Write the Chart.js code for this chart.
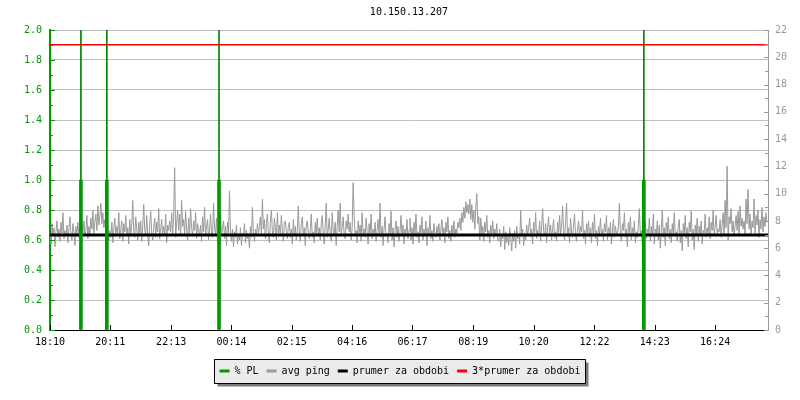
<!DOCTYPE html>
<html>
<head>
<meta charset="utf-8">
<script src="https://cdn.jsdelivr.net/npm/chart.js@4"></script>
<style>
  body { margin: 0; background: #fff; }
  #wrap { width: 800px; height: 400px; }
</style>
</head>
<body>
<div id="wrap"><canvas id="Chart" width="800" height="400"></canvas></div>
<script>
// minutes since 18:10
const tickMinutes = [0, 121, 243, 364, 485, 606, 727, 849, 970, 1092, 1213, 1334];
const tickLabels = ['18:10', '20:11', '22:13', '00:14', '02:15', '04:16', '06:17', '08:19', '10:20', '12:22', '14:23', '16:24'];

// packet loss events (left axis)
const plMinutes = [62, 114, 339, 1191];
const plValues = [1.0, 1.0, 1.0, 1.0];

// avg ping in ms, one sample every 2 minutes, one row per hour (right axis)
const sampleStep = 2;
const pingMs = [
    7.0, 6.3, 7.8, 6.9, 7.5, 6.1, 7.2, 8.0, 6.8, 7.4, 6.5, 7.9, 7.1, 8.6, 6.7, 7.3, 6.9, 7.7, 6.4, 7.5, 8.3, 7.0, 6.6, 7.8, 7.2, 6.2, 7.6, 7.0, 7.9, 6.8,
    7.4, 6.5, 7.7, 7.1, 8.0, 6.9, 7.3, 8.4, 6.7, 7.6, 7.0, 8.2, 7.4, 8.8, 7.1, 7.9, 8.5, 7.3, 9.1, 7.7, 8.3, 9.3, 7.8, 8.6, 7.5, 8.1, 7.0, 8.4, 7.2, 6.6,
    7.3, 6.8, 7.9, 6.4, 7.5, 8.2, 6.9, 7.6, 7.1, 8.6, 6.7, 7.4, 8.0, 6.5, 7.8, 7.2, 8.4, 6.9, 7.5, 6.3, 8.1, 7.0, 7.7, 9.5, 7.2, 6.8, 8.3, 7.4, 6.6, 7.9,
    7.1, 8.0, 6.5, 7.6, 9.2, 7.3, 6.9, 8.4, 7.0, 6.2, 7.8, 8.7, 7.1, 6.6, 7.5, 8.2, 6.8, 7.9, 7.2, 8.9, 6.7, 7.4, 8.1, 6.9, 7.6, 7.0, 8.5, 6.4, 7.7, 7.3,
    8.0, 7.2, 8.6, 7.0, 8.3, 11.9, 6.8, 7.9, 8.8, 7.3, 8.5, 6.9, 9.5, 7.6, 8.1, 7.0, 8.7, 7.4, 6.6, 8.2, 7.1, 8.9, 7.5, 6.9, 8.0, 7.3, 8.6, 6.7, 7.8, 7.2,
    7.0, 7.7, 6.5, 8.3, 7.2, 9.0, 6.9, 7.6, 8.1, 6.6, 7.4, 8.5, 7.1, 6.8, 9.3, 7.5, 7.0, 8.2, 6.4, 7.8, 7.3, 8.7, 6.9, 7.5, 8.0, 6.7, 7.6, 6.2, 7.9, 7.1,
    10.2, 7.0, 6.5, 7.4, 6.1, 7.2, 6.8, 7.7, 6.3, 7.0, 6.6, 7.5, 6.2, 7.1, 6.9, 7.8, 6.4, 7.3, 6.7, 7.0, 6.0, 7.6, 6.8, 9.0, 7.2, 6.5, 7.4, 6.9, 7.8, 7.1,
    7.6, 8.3, 6.9, 9.6, 7.4, 8.1, 6.7, 7.8, 8.5, 7.0, 6.4, 7.9, 8.8, 7.2, 6.8, 8.2, 7.5, 6.6, 8.6, 7.1, 7.7, 6.9, 8.4, 7.3, 6.5, 7.9, 8.0, 7.2, 6.7, 7.6,
    7.9, 6.8, 7.4, 6.3, 8.1, 7.0, 7.6, 6.6, 7.3, 9.1, 7.0, 6.5, 7.8, 8.3, 6.9, 7.5, 6.2, 7.7, 8.0, 7.1, 6.7, 7.4, 8.5, 6.8, 7.2, 6.4, 7.9, 7.0, 8.2, 6.9,
    7.5, 6.6, 7.8, 8.4, 7.1, 6.3, 7.7, 9.3, 6.8, 7.4, 8.2, 7.0, 6.5, 8.6, 7.3, 6.9, 7.9, 6.2, 7.6, 8.8, 7.2, 9.3, 6.9, 7.5, 8.3, 7.0, 6.7, 8.0, 7.4, 8.5,
    7.2, 7.9, 6.6, 7.5, 10.8, 8.4, 6.9, 7.3, 6.4, 8.0, 7.1, 7.7, 6.5, 8.6, 7.0, 7.4, 6.8, 8.2, 7.2, 6.3, 7.8, 7.0, 8.5, 6.7, 7.4, 6.9, 7.9, 6.5, 7.3, 8.1,
    7.0, 9.3, 6.8, 7.6, 6.2, 7.4, 8.3, 6.9, 7.1, 6.4, 7.8, 7.0, 8.7, 6.6, 7.5, 6.1, 7.3, 8.0, 6.8, 7.6, 6.5, 7.2, 8.4, 6.9, 7.7, 6.3, 7.4, 7.0, 8.1, 6.7,
    7.3, 8.2, 6.6, 7.5, 6.3, 7.9, 7.0, 8.5, 6.8, 7.2, 6.4, 7.7, 7.1, 8.3, 6.6, 7.4, 6.9, 8.0, 6.2, 7.5, 7.0, 8.4, 6.7, 7.3, 6.5, 7.8, 7.1, 6.8, 7.6, 7.0,
    7.8, 6.6, 7.4, 8.1, 6.9, 7.5, 6.4, 7.9, 7.2, 8.3, 6.7, 7.3, 6.5, 7.7, 7.0, 8.0, 6.8, 7.4, 7.1, 7.9, 7.5, 8.2, 7.3, 8.6, 7.9, 9.0, 8.2, 9.4, 8.6, 9.2,
    8.5, 9.6, 8.1, 9.2, 7.9, 8.8, 7.4, 9.0, 10.0, 7.8, 8.3, 6.6, 8.2, 7.0, 7.6, 6.5, 7.9, 7.2, 8.4, 6.8, 7.3, 6.4, 7.7, 7.0, 8.0, 6.7, 7.4, 6.9, 7.8, 6.6,
    6.5, 7.4, 6.1, 7.0, 6.7, 7.6, 5.9, 7.2, 6.4, 7.0, 6.2, 7.5, 6.8, 5.8, 7.1, 6.5, 7.3, 6.0, 7.6, 6.7, 7.0, 6.3, 8.8, 6.9, 7.4, 6.2, 7.1, 6.6, 7.7, 6.9,
    7.5, 8.2, 6.8, 7.4, 6.3, 7.9, 7.1, 8.6, 6.7, 7.3, 7.0, 8.0, 6.5, 7.6, 8.9, 7.2, 6.9, 7.8, 6.4, 7.5, 8.3, 7.0, 7.7, 6.6, 7.4, 8.1, 6.8, 7.2, 6.5, 7.9,
    7.1, 8.4, 6.9, 7.6, 9.1, 7.3, 6.6, 7.9, 9.3, 7.0, 7.5, 6.4, 8.2, 7.2, 6.8, 7.7, 8.5, 7.0, 6.5, 7.4, 8.0, 6.9, 7.6, 7.2, 8.8, 6.7, 7.3, 6.3, 7.8, 7.1,
    8.0, 6.8, 7.5, 6.4, 7.9, 7.1, 8.5, 6.7, 7.3, 6.2, 7.6, 7.0, 8.2, 6.9, 7.4, 6.5, 7.8, 7.2, 8.4, 6.6, 7.5, 7.0, 7.9, 6.3, 7.3, 8.1, 6.8, 7.6, 7.1, 6.9,
    7.7, 9.3, 7.0, 6.5, 7.8, 7.3, 8.6, 6.8, 7.4, 6.1, 7.9, 7.1, 8.3, 6.6, 7.5, 7.0, 8.0, 6.4, 7.2, 6.8, 7.7, 8.9, 6.9, 7.3, 6.2, 7.6, 7.0, 7.9, 6.7, 7.4,
    7.1, 8.2, 6.5, 7.6, 6.9, 8.5, 6.3, 7.4, 7.0, 8.0, 6.6, 7.7, 6.0, 7.3, 8.8, 6.8, 7.5, 6.2, 7.9, 7.1, 8.3, 6.7, 7.4, 6.4, 7.8, 7.0, 8.6, 6.9, 7.2, 6.5,
    7.6, 8.1, 6.4, 7.3, 5.8, 7.8, 7.0, 8.4, 6.7, 7.5, 6.1, 7.9, 7.2, 8.7, 6.6, 7.4, 5.9, 7.7, 7.0, 8.2, 6.5, 7.6, 6.9, 8.0, 6.3, 7.3, 7.1, 8.5, 6.8, 7.5,
    7.0, 8.3, 6.7, 7.9, 7.3, 8.8, 6.9, 7.6, 8.4, 7.1, 7.4, 7.2, 8.1, 6.8, 7.7, 8.6, 7.0, 9.5, 7.5, 12.0, 6.6, 8.3, 7.8, 8.9, 7.2, 8.0, 6.9, 7.6, 8.4, 7.3,
    8.7, 7.0, 9.1, 7.6, 8.2, 7.4, 8.0, 7.0, 9.6, 7.8, 10.3, 7.4, 8.5, 6.9, 8.0, 7.5, 9.6, 7.1, 8.4, 7.7, 8.8, 6.8, 8.1, 7.4, 9.0, 7.2, 8.3, 7.6, 8.6, 7.9
];

const avgMs = 6.97;
const totalMinutes = 1440;

const monoFont = { family: "'DejaVu Sans Mono', monospace", size: 10, weight: 'normal' };

// inner tick marks + legend frame
const axisDecor = {
    id: 'axisDecor',
    beforeDraw(chart) {
        const c = chart.ctx;
        c.save();
        c.fillStyle = '#fff';
        c.fillRect(0, 0, chart.width, chart.height);
        const boxes = chart.legend.legendHitBoxes;
        if (boxes && boxes.length) {
            let l = Infinity, r = -Infinity, t = Infinity, b = -Infinity;
            boxes.forEach(h => {
                l = Math.min(l, h.left); r = Math.max(r, h.left + h.width);
                t = Math.min(t, h.top); b = Math.max(b, h.top + h.height);
            });
            l = Math.round(l - 6) + 0.5; r = Math.round(r + 5) + 0.5;
            t = Math.round(t - 7) + 0.5; b = Math.round(b + 7) + 0.5;
            c.fillStyle = '#7a7a7a';
            c.fillRect(l + 3, t + 3, r - l, b - t);
            c.fillStyle = '#ebebeb';
            c.fillRect(l, t, r - l, b - t);
            c.strokeStyle = '#000';
            c.lineWidth = 1;
            c.strokeRect(l, t, r - l, b - t);
        }
        c.restore();
    },
    afterDraw(chart) {
        const c = chart.ctx;
        const area = chart.chartArea;
        const yl = chart.scales.y, yr = chart.scales.y1, x = chart.scales.x;
        c.save();
        c.lineWidth = 1;
        c.strokeStyle = '#009900';
        for (let i = 0; i <= 20; i++) {
            const py = Math.round(yl.getPixelForValue(i / 10)) + 0.5;
            const len = i % 2 === 0 ? 5 : 3;
            c.beginPath(); c.moveTo(area.left, py); c.lineTo(area.left + len, py); c.stroke();
        }
        c.strokeStyle = '#999';
        for (let i = 0; i <= 22; i++) {
            const py = Math.round(yr.getPixelForValue(i)) + 0.5;
            const len = i % 2 === 0 ? 4 : 3;
            c.beginPath(); c.moveTo(area.right, py); c.lineTo(area.right - len, py); c.stroke();
        }
        c.strokeStyle = '#000';
        tickMinutes.forEach(m => {
            const px = Math.round(x.getPixelForValue(m)) + 0.5;
            c.beginPath(); c.moveTo(px, area.bottom); c.lineTo(px, area.bottom - 5); c.stroke();
        });
        c.restore();
    }
};

const config = {
    type: 'bar',
    data: {
        datasets: [{
            label: '% PL',
            type: 'bar',
            yAxisID: 'y',
            data: plMinutes.map((m, i) => ({ x: m, y: plValues[i] })),
            backgroundColor: '#009900',
            barThickness: 3,
            grouped: false,
            order: 0,
        }, {
            label: 'avg ping',
            type: 'line',
            yAxisID: 'y1',
            data: pingMs.map((v, i) => ({ x: i * sampleStep, y: v })),
            borderColor: '#9a9a9a',
            borderWidth: 1,
            pointRadius: 0,
            tension: 0,
            order: 3,
        }, {
            label: 'prumer za obdobi',
            type: 'line',
            yAxisID: 'y1',
            data: [{ x: 0, y: avgMs }, { x: totalMinutes, y: avgMs }],
            borderColor: '#000',
            borderWidth: 3,
            pointRadius: 0,
            order: 2,
        }, {
            label: '3*prumer za obdobi',
            type: 'line',
            yAxisID: 'y1',
            data: [{ x: 0, y: 3 * avgMs }, { x: totalMinutes, y: 3 * avgMs }],
            borderColor: '#ff0000',
            borderWidth: 1.5,
            pointRadius: 0,
            order: 1,
        }, {
            label: 'pl marker',
            type: 'bar',
            yAxisID: 'y',
            data: plMinutes.map(m => ({ x: m, y: [0, 2] })),
            backgroundColor: '#008800',
            barThickness: 1,
            grouped: false,
            order: 4,
        }],
    },
    options: {
        responsive: false,
        animation: false,
        layout: { padding: { left: 0, right: 0, top: 0, bottom: 14 } },
        plugins: {
            title: {
                display: true,
                text: '10.150.13.207',
                color: '#000',
                font: monoFont,
                fullSize: false,
                padding: { top: 6, bottom: 12 },
            },
            legend: {
                position: 'bottom',
                labels: {
                    font: monoFont,
                    color: '#000',
                    boxWidth: 10,
                    boxHeight: 3,
                    padding: 8,
                    generateLabels: chart => chart.data.datasets.slice(0, 4).map((ds, i) => ({
                        text: ds.label,
                        fillStyle: i === 0 ? '#009900' : ds.borderColor,
                        strokeStyle: i === 0 ? '#009900' : ds.borderColor,
                        lineWidth: 0,
                        fontColor: '#000',
                        datasetIndex: i,
                    })),
                },
            },
            tooltip: { enabled: false },
        },
        scales: {
            x: {
                type: 'linear',
                min: 0,
                max: totalMinutes,
                offset: false,
                grid: { display: false, drawTicks: false },
                border: { color: '#000', width: 1 },
                afterBuildTicks: scale => { scale.ticks = tickMinutes.map(v => ({ value: v })); },
                afterFit: scale => { scale.height = 28; },
                ticks: {
                    autoSkip: false,
                    maxRotation: 0,
                    padding: 6,
                    color: '#000',
                    font: monoFont,
                    callback: (v, i) => tickLabels[i],
                },
            },
            y: {
                position: 'left',
                min: 0,
                max: 2,
                grid: { color: '#c0c0c0', drawTicks: false },
                border: { color: '#009900', width: 2 },
                afterFit: scale => { scale.width = 50; },
                ticks: {
                    stepSize: 0.2,
                    padding: 8,
                    color: '#009900',
                    font: monoFont,
                    callback: v => v.toFixed(1),
                },
            },
            y1: {
                position: 'right',
                min: 0,
                max: 22,
                grid: { display: false, drawTicks: false },
                border: { color: '#999', width: 1 },
                afterFit: scale => { scale.width = 32; },
                ticks: {
                    stepSize: 2,
                    padding: 7,
                    color: '#999',
                    font: monoFont,
                },
            },
        },
    },
    plugins: [axisDecor],
};

const ctx = document.getElementById('Chart').getContext('2d');
const myChart = new Chart(ctx, config);
</script>
</body>
</html>
